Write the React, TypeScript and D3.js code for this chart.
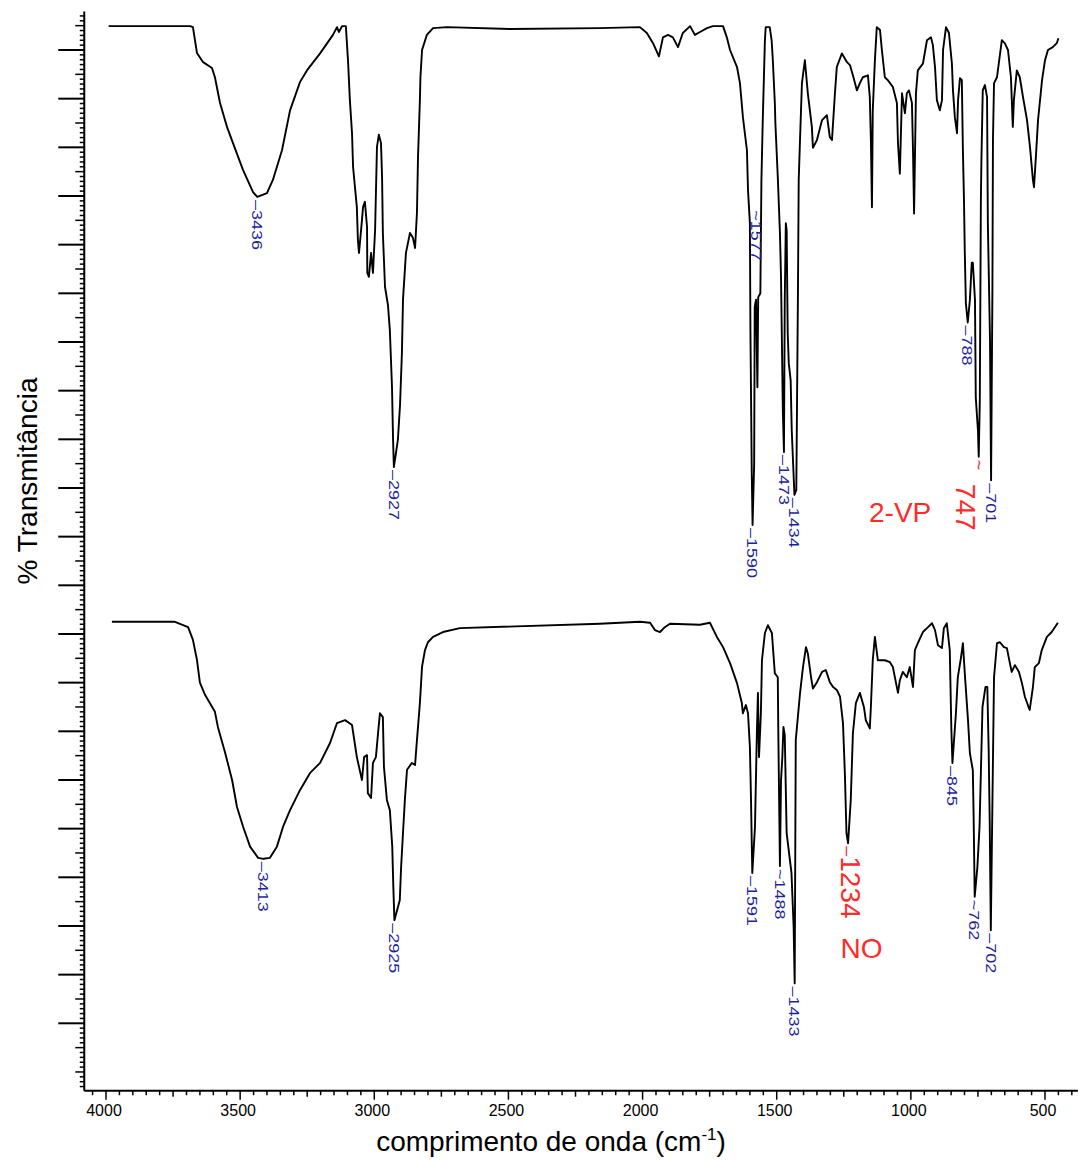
import React from "react";
import * as d3 from "d3";

// ---------- data ----------
// wavenumber (cm-1), transmittance (arbitrary stacked units)
const topSpectrum: [number, number][] = [
  [3990,204.9],[3687,204.9],[3676,204.7],[3661,199.4],[3638,197.5],[3605,196.3],[3594,194.4],[3575,189.1],[3549,184.2],[3527,180.9],[3489,175.3],[3452,170.8],[3436,169.8],[3400,170.6],[3378,173.3],[3344,179.4],[3314,187.6],[3277,193.4],[3251,195.8],[3202,199.3],[3154,203.1],[3139,204.7],[3132,203.7],[3120,204.9],[3106,204.9],[3098,197.9],[3091,189.7],[3083,182.9],[3079,175.9],[3072,171.8],[3065,167.7],[3061,160.9],[3057,158.3],[3046,165.0],[3042,167.7],[3035,168.8],[3027,163.6],[3026,154.2],[3020,153.4],[3012,158.3],[3005,154.2],[2997,163.0],[2990,180.1],[2983,182.6],[2975,180.9],[2971,173.9],[2968,162.4],[2960,151.3],[2949,147.6],[2942,142.4],[2934,130.8],[2930,119.9],[2927,114.3],[2912,119.9],[2904,127.1],[2897,137.8],[2893,148.7],[2882,158.3],[2867,162.4],[2856,161.4],[2848,159.3],[2841,166.5],[2837,178.0],[2830,189.7],[2828,194.4],[2822,200.0],[2804,203.1],[2781,204.5],[2729,204.7],[2494,204.3],[2159,204.5],[2010,204.7],[1984,203.5],[1961,201.4],[1939,198.7],[1924,202.6],[1905,203.1],[1887,202.6],[1868,200.6],[1850,203.5],[1823,204.9],[1805,203.1],[1786,203.7],[1760,204.5],[1738,204.9],[1700,204.9],[1686,202.6],[1674,200.0],[1648,196.5],[1637,193.2],[1626,186.2],[1611,179.4],[1607,171.2],[1600,164.4],[1598,142.4],[1593,113.0],[1590,102.4],[1584,115.1],[1582,147.2],[1577,148.7],[1572,130.7],[1569,149.2],[1561,150.0],[1557,173.3],[1552,185.6],[1544,202.0],[1541,204.7],[1526,204.7],[1519,202.0],[1515,198.5],[1507,189.1],[1505,185.0],[1496,173.9],[1488,162.4],[1484,153.4],[1477,125.4],[1473,117.4],[1470,148.6],[1466,164.4],[1463,163.0],[1459,141.8],[1455,135.6],[1448,132.1],[1444,121.9],[1434,108.6],[1427,109.6],[1421,149.2],[1418,173.3],[1414,180.1],[1406,193.2],[1395,197.9],[1384,191.1],[1369,184.2],[1365,179.9],[1350,181.5],[1331,185.6],[1313,186.6],[1302,182.1],[1294,181.5],[1283,191.1],[1276,196.5],[1257,199.3],[1238,197.5],[1227,196.9],[1216,194.8],[1201,191.7],[1190,193.2],[1179,194.4],[1160,194.8],[1153,190.3],[1149,181.5],[1145,167.7],[1142,187.5],[1134,197.9],[1127,204.7],[1115,204.1],[1108,200.0],[1097,194.4],[1086,193.8],[1067,192.4],[1052,189.1],[1048,180.9],[1041,174.6],[1033,191.1],[1022,187.0],[1015,191.1],[1007,191.7],[996,189.1],[992,179.4],[988,166.4],[981,191.1],[974,195.8],[955,197.2],[940,202.0],[925,202.6],[918,201.0],[910,196.5],[903,189.7],[892,187.6],[884,189.7],[880,200.0],[869,204.7],[858,203.5],[847,197.2],[843,191.7],[836,186.2],[828,182.9],[824,189.7],[817,194.2],[810,193.8],[806,179.4],[802,169.2],[799,158.5],[795,148.0],[788,144.0],[780,148.6],[773,156.3],[769,156.3],[761,148.6],[758,128.6],[750,121.9],[747,116.4],[743,128.0],[739,169.2],[737,177.4],[732,191.7],[724,192.8],[716,190.3],[713,164.4],[705,140.4],[701,111.6],[696,150.7],[694,181.5],[690,193.2],[679,194.4],[661,202.0],[650,201.4],[638,200.0],[627,194.4],[620,184.2],[616,189.7],[605,195.8],[594,194.4],[582,190.3],[567,185.6],[556,180.1],[545,173.3],[541,171.8],[534,178.0],[526,185.6],[511,193.8],[500,197.9],[489,200.0],[471,200.6],[456,201.4],[450,202.4]
];

const bottomSpectrum: [number, number][] = [
  [3978,82.5],[3743,82.5],[3694,81.4],[3676,78.8],[3661,74.7],[3650,70.0],[3631,67.5],[3594,64.0],[3583,60.9],[3556,55.6],[3530,50.0],[3512,44.5],[3489,40.4],[3463,36.3],[3433,34.0],[3413,33.8],[3389,34.0],[3363,36.3],[3340,40.4],[3314,43.8],[3277,47.9],[3240,51.4],[3202,53.5],[3165,57.6],[3139,61.7],[3109,62.3],[3083,61.3],[3065,54.7],[3046,50.0],[3038,54.7],[3027,55.1],[3024,47.3],[3012,46.3],[3005,53.5],[2994,54.7],[2986,59.6],[2979,63.7],[2968,62.9],[2964,52.7],[2953,45.9],[2942,43.8],[2933,36.3],[2929,28.0],[2925,21.2],[2905,25.3],[2900,32.1],[2893,39.1],[2886,45.9],[2878,52.1],[2860,53.5],[2848,53.1],[2841,58.2],[2830,65.8],[2822,73.3],[2811,76.7],[2800,78.3],[2781,79.4],[2744,80.4],[2681,81.2],[2159,82.1],[2010,82.5],[1972,82.3],[1954,80.8],[1935,80.4],[1917,81.4],[1898,82.1],[1786,81.9],[1749,82.3],[1723,79.4],[1700,77.3],[1674,74.0],[1648,69.9],[1630,65.8],[1626,63.7],[1615,65.4],[1607,63.7],[1600,56.8],[1596,46.5],[1591,30.9],[1581,40.4],[1574,59.6],[1570,67.9],[1566,54.7],[1559,63.7],[1555,74.6],[1544,80.2],[1533,81.8],[1518,80.2],[1507,71.9],[1496,71.1],[1494,59.6],[1491,45.9],[1488,32.3],[1484,49.9],[1479,54.7],[1475,60.9],[1470,59.2],[1463,39.1],[1445,30.9],[1437,20.0],[1433,8.2],[1429,58.2],[1413,67.9],[1402,73.2],[1391,77.3],[1384,76.0],[1372,71.1],[1365,68.8],[1350,70.1],[1331,72.2],[1317,72.6],[1302,70.1],[1290,69.1],[1276,68.5],[1264,67.1],[1253,61.7],[1246,51.4],[1240,39.1],[1234,37.0],[1224,45.9],[1216,59.6],[1205,65.8],[1190,67.9],[1175,65.0],[1168,62.3],[1153,60.6],[1149,65.0],[1142,74.6],[1134,79.4],[1123,74.6],[1097,74.6],[1078,74.2],[1067,73.2],[1048,67.9],[1041,70.5],[1030,72.2],[1015,71.1],[1004,73.2],[992,69.1],[985,76.7],[974,78.1],[955,80.4],[940,81.2],[921,82.2],[910,80.8],[899,77.7],[884,77.1],[877,81.2],[866,82.2],[855,76.7],[849,60.3],[845,53.5],[832,63.7],[825,71.1],[813,75.2],[806,78.1],[798,71.1],[787,62.3],[780,55.5],[769,52.0],[766,42.4],[762,26.0],[752,32.1],[744,40.4],[733,65.0],[722,69.1],[715,69.1],[710,56.2],[706,41.1],[702,19.1],[694,54.1],[690,71.1],[679,78.1],[668,78.3],[653,77.3],[642,77.1],[631,74.0],[624,72.2],[612,73.6],[597,72.2],[586,69.9],[575,67.1],[560,64.8],[557,64.4],[545,69.1],[538,73.2],[523,74.0],[512,76.7],[493,79.4],[475,80.4],[452,82.3]
];

// peak labels: [wavenumber, transmittance at label, marker]
const topPeaks: [number, number, string][] = [
  [3436,169.8,"–"],[2927,114.3,"–"],[1590,102.4,"–"],[1577,167.7,"~"],[1473,117.4,"–"],[1434,108.6,"–"],[788,144.0,"–"],[701,111.6,"–"]
];
const bottomPeaks: [number, number, string][] = [
  [3413,33.8,"–"],[2925,21.2,"–"],[1591,30.9,"–"],[1488,32.3,"~"],[1433,8.2,"–"],[845,53.5,"–"],[762,26.0,"~"],[702,19.1,"–"]
];
// highlighted (red) peaks
const redPeaks: [number, number, string][] = [
  [747,116.4,"~"],[1234,37.0,"–"]
];
// red annotations: [text, wavenumber, transmittance of baseline]
const annotations: [string, number, number][] = [
  ["2-VP",1156,103.1],["NO",1262,13.4]
];

const xTickLabels = [4000, 3500, 3000, 2500, 2000, 1500, 1000, 500];

// ---------- layout ----------
const W = 1078, H = 1160;
const xScale = d3.scaleLinear().domain([4000, 500]).range([106, 1045]);
const yScale = d3.scaleLinear().domain([0, 200]).range([1023.3, 50]);
const FONT = "'Liberation Sans', Arial, sans-serif";
const BLUE = "#1f1f9e";
const RED = "#ff2b2b";

export default function App() {
  const line = d3.line<[number, number]>()
    .x(d => xScale(d[0]))
    .y(d => yScale(d[1]));

  const axisX = xScale(4081);
  const axisRight = W;
  const axisBottom = yScale(-13.85);
  const axisTop = yScale(207.9);

  const yTicks = d3.range(-13, 208, 1);
  const xTicks = d3.range(4050, 399, -50);

  const redOffsets: Record<number, { dx: number; dy: number }> = {
    747: { dx: -13, dy: 24 },
    1234: { dx: 2, dy: 10 },
  };

  const renderBlue = (p: [number, number, string], i: number) => {
    const x = xScale(p[0]);
    const y = yScale(p[1]) + 3;
    return (
      <text key={i} transform={`translate(${x},${y}) rotate(90) scale(1,0.8)`} fontFamily={FONT}
        fontSize={18} fill={BLUE} dominantBaseline="central">
        {p[2] + String(p[0])}
      </text>
    );
  };

  return (
    <svg width={W} height={H} style={{ position: "absolute", left: 0, top: 0, background: "#fff" }}>
      <rect x={0} y={0} width={W} height={H} fill="#fff" />
      {/* y axis */}
      <line x1={axisX} x2={axisX} y1={axisTop} y2={axisBottom} stroke="#000" strokeWidth={2} />
      {yTicks.map(v => {
        const y = yScale(v);
        const major = v % 10 === 0 && v >= 0 && v <= 200;
        const mid = !major && v % 5 === 0;
        const len = major ? 26 : mid ? 9 : 4.5;
        return <line key={"yt" + v} x1={axisX - len} x2={axisX} y1={y} y2={y} stroke="#000" strokeWidth={major ? 2 : 1.5} />;
      })}
      {/* x axis */}
      <line x1={axisX} x2={axisRight} y1={axisBottom} y2={axisBottom} stroke="#000" strokeWidth={2} />
      {xTicks.map(w => {
        const x = xScale(w);
        const major = w % 500 === 0;
        const mid = !major && w % 250 === 0;
        const len = major ? 9 : mid ? 6 : 4.5;
        return <line key={"xt" + w} x1={x} x2={x} y1={axisBottom} y2={axisBottom + len} stroke="#000" strokeWidth={1.5} />;
      })}
      {xTickLabels.map(w => (
        <text key={"xl" + w} x={xScale(w) - 2} y={1116} textAnchor="middle" fontFamily={FONT} fontSize={16} fill="#000">
          {w}
        </text>
      ))}
      <text x={551} y={1151} textAnchor="middle" fontFamily={FONT} fontSize={28} fill="#000">
        comprimento de onda (cm<tspan fontSize={17} dy={-11}>-1</tspan><tspan dy={11}>)</tspan>
      </text>
      <text transform={`translate(37,481) rotate(-90)`} textAnchor="middle" fontFamily={FONT} fontSize={28} fill="#000">
        % Transmitância
      </text>

      {/* spectra */}
      <path d={line(topSpectrum) || ""} fill="none" stroke="#000" strokeWidth={1.9} strokeLinejoin="round" />
      <path d={line(bottomSpectrum) || ""} fill="none" stroke="#000" strokeWidth={1.9} strokeLinejoin="round" />

      {/* peak labels */}
      {topPeaks.map((p, i) => renderBlue(p, i))}
      {bottomPeaks.map((p, i) => renderBlue(p, 100 + i))}
      {redPeaks.map((p, i) => {
        const x = xScale(p[0]);
        const y = yScale(p[1]) + 3;
        const off = redOffsets[p[0]] || { dx: 0, dy: 10 };
        return (
          <g key={"r" + i}>
            <text transform={`translate(${x},${y}) rotate(90)`} fontFamily={FONT} fontSize={18} fill={RED} dominantBaseline="central">
              {p[2]}
            </text>
            <text transform={`translate(${x + off.dx},${y + off.dy}) rotate(90)`} fontFamily={FONT} fontSize={28} fill={RED} dominantBaseline="central">
              {String(p[0])}
            </text>
          </g>
        );
      })}
      {annotations.map((a, i) => (
        <text key={"a" + i} x={xScale(a[1])} y={yScale(a[2])} fontFamily={FONT} fontSize={28} fill={RED}>
          {a[0]}
        </text>
      ))}
    </svg>
  );
}
